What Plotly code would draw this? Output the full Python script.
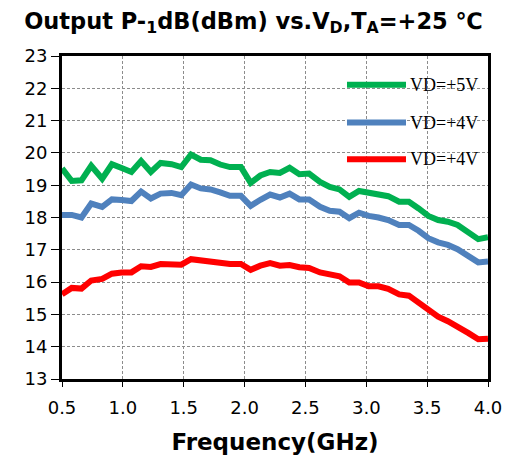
import plotly.graph_objects as go

freq = [0.50, 0.58, 0.66, 0.74, 0.83, 0.91, 0.99, 1.07, 1.15, 1.23, 1.31, 1.40, 1.48, 1.56,
        1.64, 1.72, 1.80, 1.88, 1.97, 2.05, 2.13, 2.21, 2.29, 2.37, 2.45, 2.53, 2.62, 2.70,
        2.78, 2.86, 2.94, 3.02, 3.10, 3.18, 3.27, 3.35, 3.43, 3.51, 3.59, 3.67, 3.75, 3.84,
        3.92, 4.00]

vd5 = [19.52, 19.13, 19.15, 19.60, 19.20, 19.65, 19.53, 19.41, 19.75, 19.41, 19.69, 19.65,
       19.56, 19.95, 19.79, 19.77, 19.64, 19.56, 19.56, 19.07, 19.30, 19.41, 19.38, 19.54,
       19.34, 19.36, 19.10, 18.95, 18.87, 18.64, 18.82, 18.78, 18.74, 18.66, 18.49, 18.49,
       18.28, 18.05, 17.92, 17.87, 17.77, 17.53, 17.33, 17.39]

vd4a = [18.08, 18.08, 18.00, 18.43, 18.33, 18.56, 18.54, 18.51, 18.80, 18.59, 18.74, 18.76,
        18.69, 19.02, 18.90, 18.87, 18.78, 18.67, 18.67, 18.36, 18.55, 18.71, 18.62, 18.74,
        18.56, 18.56, 18.33, 18.21, 18.18, 17.98, 18.15, 18.05, 18.00, 17.92, 17.77, 17.77,
        17.59, 17.36, 17.23, 17.15, 17.02, 16.79, 16.61, 16.64]

vd4b = [15.62, 15.82, 15.80, 16.05, 16.10, 16.26, 16.30, 16.30, 16.49, 16.47, 16.56, 16.57,
        16.54, 16.71, 16.67, 16.64, 16.61, 16.56, 16.56, 16.38, 16.51, 16.59, 16.51, 16.53,
        16.46, 16.44, 16.30, 16.25, 16.18, 15.99, 15.99, 15.87, 15.87, 15.79, 15.62, 15.58,
        15.36, 15.13, 14.93, 14.79, 14.64, 14.42, 14.23, 14.25]

series_names = ["VD=+5V", "VD=+4V", "VD=+4V"]
series_colors = ["#00B050", "#4F81BD", "#FF0000"]
series_values = [vd5, vd4a, vd4b]

x_ticks = [0.5, 1.0, 1.5, 2.0, 2.5, 3.0, 3.5, 4.0]
x_tick_labels = ["0.5", "1.0", "1.5", "2.0", "2.5", "3.0", "3.5", "4.0"]
y_ticks = list(range(13, 24))

fig = go.Figure()
for name, color, vals in zip(series_names, series_colors, series_values):
    fig.add_trace(go.Scatter(x=freq, y=vals, mode="lines", name=name,
                             line=dict(color=color, width=6), showlegend=False))

# legend drawn manually (long line samples)
leg_y = [0.911, 0.794, 0.680]
for name, color, ly in zip(series_names, series_colors, leg_y):
    fig.add_shape(type="line", xref="paper", yref="paper", x0=0.669, x1=0.8075, y0=ly, y1=ly,
                  line=dict(color=color, width=6), layer="above")
    fig.add_annotation(xref="paper", yref="paper", x=0.812, y=ly, text=name, showarrow=False,
                       xanchor="left", yanchor="middle",
                       font=dict(family="Liberation Serif", size=18, color="black"))

fig.update_layout(
    width=507, height=461,
    margin=dict(l=62, r=19, t=56, b=82, autoexpand=False),
    paper_bgcolor="white", plot_bgcolor="white",
    title=dict(text="Output P-<sub>1</sub>dB(dBm) vs.V<sub>D</sub>,T<sub>A</sub>=+25 ℃",
               x=0.5, xanchor="center", y=0.955, yanchor="middle",
               font=dict(family="DejaVu Sans", size=22.5, color="black", weight="bold")),
    font=dict(family="DejaVu Sans", color="black"),
)
fig.update_xaxes(range=[0.5, 4.0], tickvals=x_ticks, ticktext=x_tick_labels,
                 showline=True, linecolor="black", linewidth=3, mirror=True,
                 showgrid=True, gridcolor="#8c8c8c", gridwidth=1, griddash="3px,2px",
                 ticks="outside", ticklen=5, tickcolor="black", tickwidth=1,
                 ticklabelstandoff=5, automargin=False,
                 tickfont=dict(size=18, family="DejaVu Sans"),
                 title=dict(text="Frequency(GHz)", standoff=18,
                            font=dict(size=23, family="DejaVu Sans", weight="bold")),
                 zeroline=False)
fig.update_yaxes(range=[13, 23], tickvals=y_ticks,
                 showline=True, linecolor="black", linewidth=3, mirror=True,
                 showgrid=True, gridcolor="#8c8c8c", gridwidth=1, griddash="3px,2px",
                 ticks="outside", ticklen=8, tickcolor="black", tickwidth=1,
                 automargin=False,
                 tickfont=dict(size=18, family="DejaVu Sans"),
                 zeroline=False)

fig.write_html("out.html")
